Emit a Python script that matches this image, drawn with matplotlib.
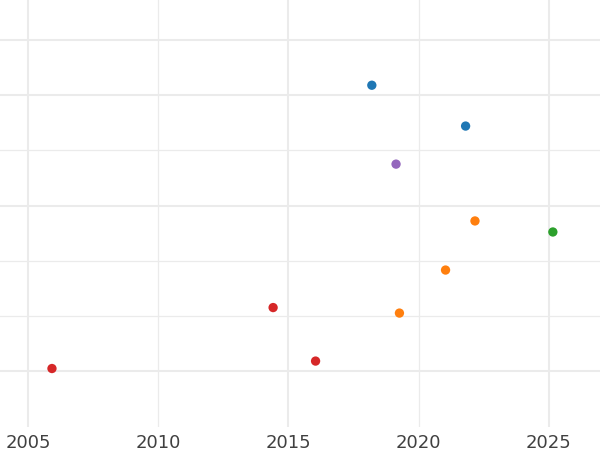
import matplotlib
matplotlib.use("Agg")
import matplotlib.pyplot as plt

# Data
years = [2018.2, 2021.8, 2019.13, 2022.16, 2021.03, 2019.26, 2025.15, 2014.41, 2016.04, 2005.92]
values = [6.18, 5.44, 4.75, 3.72, 2.83, 2.05, 3.52, 2.15, 1.18, 1.045]
groups = ["blue", "blue", "purple", "orange", "orange", "orange", "green", "red", "red", "red"]
palette = {"blue": "#1f77b4", "orange": "#ff7f0e", "green": "#2ca02c",
           "red": "#d62728", "purple": "#9467bd"}
x_ticks = [2005, 2010, 2015, 2020, 2025]
x_tick_labels = ["2005", "2010", "2015", "2020", "2025"]
x_thick = [2005, 2015, 2025]
x_thin = [2010, 2020]
y_thick = [1, 4, 6, 7]
y_thin = [2, 3, 5]

fig = plt.figure(figsize=(6, 4.5), dpi=100)
ax = fig.add_axes([0, 1 - 427 / 450, 1, 427 / 450])
ax.set_xlim(2003.925, 2026.96)
ax.set_ylim(-0.015, 7.725)

gc = "#ebebeb"
for v in x_thick:
    ax.axvline(v, color=gc, lw=1.5, zorder=0)
for v in x_thin:
    ax.axvline(v, color=gc, lw=0.9, zorder=0)
for v in y_thick:
    ax.axhline(v, color=gc, lw=1.5, zorder=0)
for v in y_thin:
    ax.axhline(v, color=gc, lw=0.9, zorder=0)

ax.scatter(years, values, c=[palette[g] for g in groups], s=45, linewidths=0, zorder=3)

ax.set_xticks(x_ticks)
ax.set_xticklabels(x_tick_labels, fontsize=13, color="#404040")
ax.tick_params(axis="x", length=0, pad=5)
ax.set_yticks([])
for s in ax.spines.values():
    s.set_visible(False)

fig.savefig("out.png", dpi=100)
